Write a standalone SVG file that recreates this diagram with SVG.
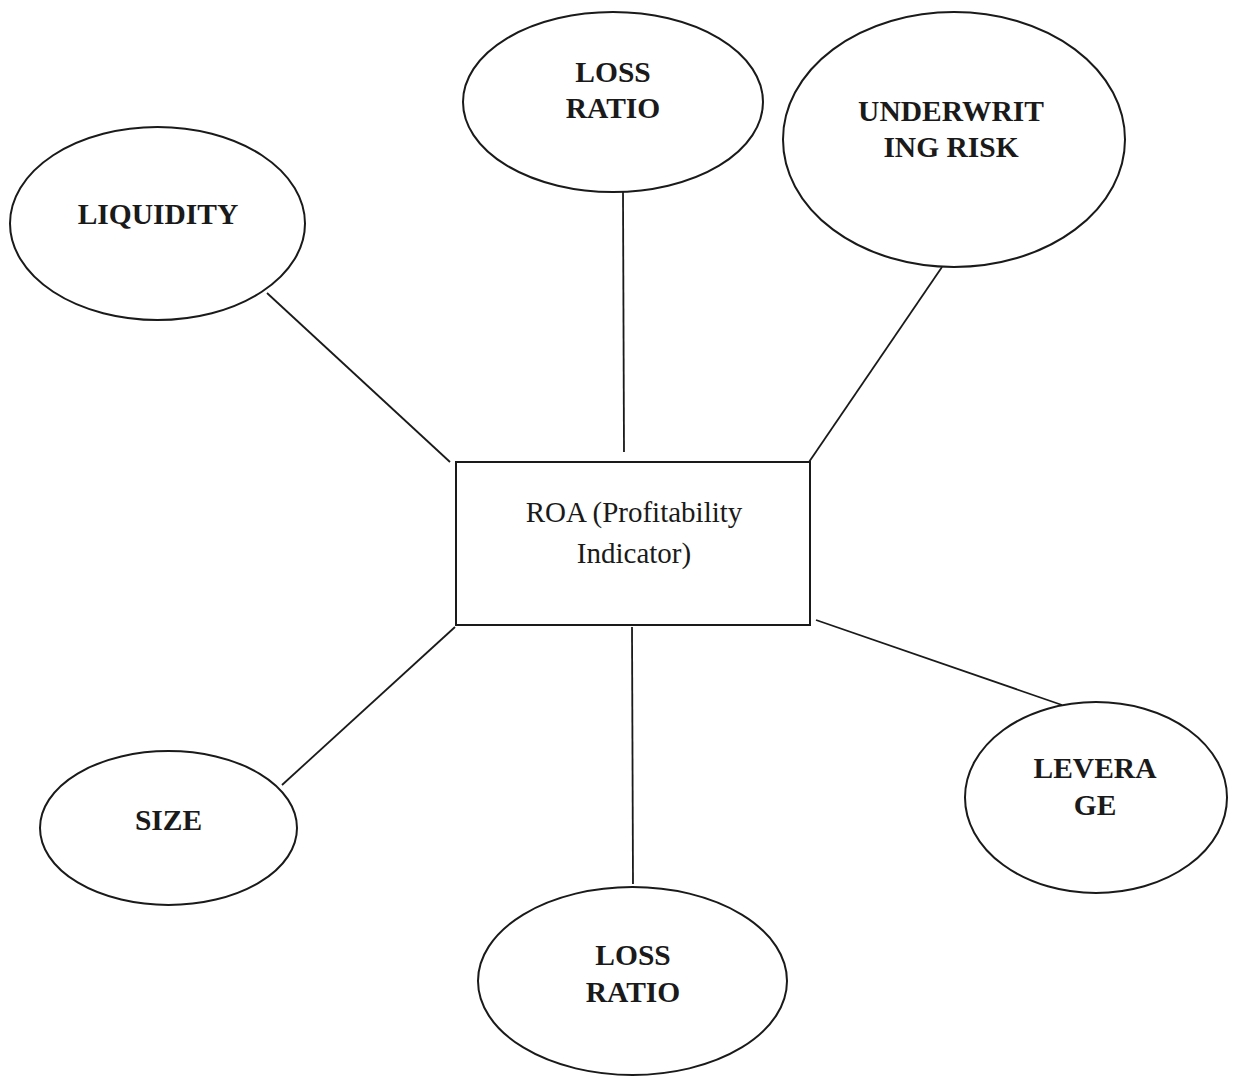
<svg xmlns="http://www.w3.org/2000/svg" width="1234" height="1076" viewBox="0 0 1234 1076">
<style>
.n{fill:#fff;stroke:#1a1a1a;stroke-width:2}
.b{font-family:"Liberation Serif",serif;font-weight:bold;font-size:29.5px;fill:#1a1a1a;text-anchor:middle}
.r{font-family:"Liberation Serif",serif;font-size:29px;fill:#1a1a1a;text-anchor:middle}
.c line{stroke:#1a1a1a;stroke-width:1.8}
</style>
<rect width="1234" height="1076" fill="#fff"/>
<g class="c" id="connectors">
<line x1="267" y1="293" x2="450" y2="462"/>
<line x1="623" y1="192" x2="624" y2="452"/>
<line x1="942" y1="267" x2="809" y2="462"/>
<line x1="455" y1="627" x2="282" y2="785"/>
<line x1="632" y1="627" x2="633" y2="884"/>
<line x1="816" y1="620" x2="1062" y2="705"/>
</g>
<g id="roa">
<rect class="n" x="456" y="462" width="354" height="163"/>
<text class="r" x="634" y="522">ROA (Profitability</text>
<text class="r" x="634" y="563">Indicator)</text>
</g>
<g id="liquidity">
<ellipse class="n" cx="157.5" cy="223.5" rx="147.5" ry="96.5"/>
<text class="b" x="158" y="224">LIQUIDITY</text>
</g>
<g id="loss-ratio-top">
<ellipse class="n" cx="613" cy="102" rx="150" ry="90"/>
<text class="b" x="613" y="82">LOSS</text>
<text class="b" x="613" y="118">RATIO</text>
</g>
<g id="underwriting-risk">
<ellipse class="n" cx="954" cy="139.5" rx="171" ry="127.5"/>
<text class="b" x="951" y="121">UNDERWRIT</text>
<text class="b" x="951" y="157">ING RISK</text>
</g>
<g id="size">
<ellipse class="n" cx="168.5" cy="828" rx="128.5" ry="77"/>
<text class="b" x="168.5" y="830">SIZE</text>
</g>
<g id="loss-ratio-bottom">
<ellipse class="n" cx="632.5" cy="981" rx="154.5" ry="94"/>
<text class="b" x="633" y="965">LOSS</text>
<text class="b" x="633" y="1002">RATIO</text>
</g>
<g id="leverage">
<ellipse class="n" cx="1096" cy="797.5" rx="131" ry="95.5"/>
<text class="b" x="1095" y="778">LEVERA</text>
<text class="b" x="1095" y="815">GE</text>
</g>
</svg>
